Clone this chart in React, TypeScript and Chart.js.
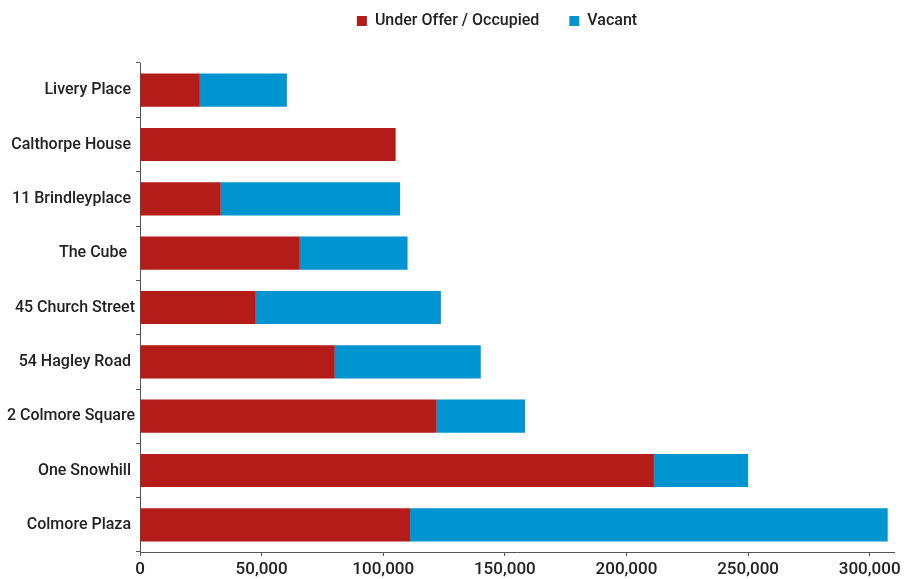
import React, { useEffect, useRef } from "react";
import { Chart, registerables } from "chart.js";

Chart.register(...registerables);

const buildings = [
  "Livery Place ",
  "Calthorpe House ",
  "11 Brindleyplace ",
  "The Cube  ",
  "45 Church Street",
  "54 Hagley Road ",
  "2 Colmore Square",
  "One Snowhill ",
  "Colmore Plaza ",
];

// floor space in sq ft
const underOfferOccupied = [24600, 105100, 33200, 65700, 47600, 80100, 122000, 211300, 111000];
const vacant = [35800, 0, 73700, 44300, 76100, 60000, 36300, 38700, 196400];

const xTicks = [0, 50000, 100000, 150000, 200000, 250000, 300000];
const xMax = 310000;

const FONT = "Roboto, 'DejaVu Sans', sans-serif";
const RED = "#B31C18";
const BLUE = "#0094D0";
const AXIS = "#555555";
const TEXT = "#222222";

// moves the legend box after layout without changing the chart area
const legendShift = {
  id: "legendShift",
  afterLayout(chart: any, _args: any, opts: any) {
    const lg = chart.legend;
    if (!lg || !opts) return;
    const dx = opts.dx || 0;
    const dy = opts.dy || 0;
    lg.left += dx;
    lg.right += dx;
    lg.top += dy;
    lg.bottom += dy;
  },
};

export default function App() {
  const ref = useRef<HTMLCanvasElement | null>(null);

  useEffect(() => {
    if (!ref.current) return;
    const chart = new Chart(ref.current, {
      type: "bar",
      data: {
        labels: buildings,
        datasets: [
          {
            label: "Under Offer / Occupied",
            data: underOfferOccupied,
            backgroundColor: RED,
            barPercentage: 0.61,
            categoryPercentage: 1,
          },
          {
            label: "Vacant",
            data: vacant,
            backgroundColor: BLUE,
            barPercentage: 0.61,
            categoryPercentage: 1,
          },
        ],
      },
      options: {
        indexAxis: "y",
        animation: false,
        responsive: false,
        maintainAspectRatio: false,
        layout: { padding: { left: 0, right: 13, top: 7, bottom: 0 } },
        plugins: {
          legend: {
            position: "top",
            labels: {
              boxWidth: 10,
              boxHeight: 10,
              padding: 30,
              color: TEXT,
              font: { family: FONT, size: 16, weight: "500" },
            },
          },
          tooltip: { enabled: false },
          legendShift: { dx: 50, dy: -24 },
        } as any,
        scales: {
          x: {
            type: "linear",
            stacked: true,
            min: 0,
            max: xMax,
            afterBuildTicks(scale: any) {
              scale.ticks = xTicks.map((value) => ({ value }));
            },
            afterFit(scale: any) {
              scale.height = 27;
            },
            ticks: {
              autoSkip: false,
              maxRotation: 0,
              color: TEXT,
              padding: 4,
              font: { family: FONT, size: 17, weight: "500" },
              callback: (v: any) => String(Math.round(Number(v))).replace(/\B(?=(\d{3})+(?!\d))/g, ","),
            },
            grid: {
              drawOnChartArea: false,
              drawTicks: true,
              tickLength: 4,
              color: AXIS,
            },
            border: { color: AXIS, width: 1 },
          },
          y: {
            stacked: true,
            afterFit(scale: any) {
              scale.width = 140;
            },
            ticks: {
              color: TEXT,
              padding: 1,
              font: { family: FONT, size: 16, weight: "500" },
            },
            grid: {
              drawOnChartArea: false,
              drawTicks: true,
              tickLength: 4,
              color: AXIS,
              offset: true,
            },
            border: { color: AXIS, width: 1 },
          },
        },
      },
      plugins: [legendShift],
    });
    return () => chart.destroy();
  }, []);

  return (
    <div style={{ position: "fixed", left: 0, top: 0, width: 907, height: 579, background: "#fff" }}>
      <canvas ref={ref} width={907} height={579} style={{ display: "block" }} />
    </div>
  );
}
